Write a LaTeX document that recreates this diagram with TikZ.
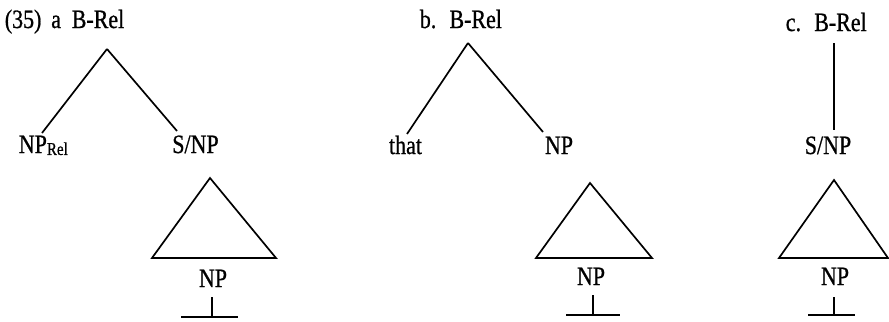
\documentclass[tikz,border=0pt]{standalone}
\usepackage{fontspec}
\setmainfont{Liberation Serif}[FakeStretch=0.83, FakeBold=0.8]
\usetikzlibrary{positioning, calc}

\begin{document}
\begin{tikzpicture}[
        x=0.025cm, y=-0.025cm,
        line width=1.2pt,
        font=\fontsize{18.8}{20}\selectfont,
        lbl/.style={
            inner sep=0pt,
            anchor=base
        }
    ]
    \useasboundingbox (0,0) rectangle (889,322);

    % (a) B-Rel -> NP_Rel, S/NP
    \node[lbl, anchor=base west] (exnum) at (4,28) {(35)\, a\,};
    \node[lbl] (arel) at (98,28) {B-Rel};
    \coordinate (atop) at (107,49);
    \coordinate (aleft) at (42,133);
    \coordinate (aright) at (177,131);
    \node[lbl, anchor=base west] (anprel) at (18,153)
        {NP\raisebox{-1.4pt}{\fontsize{12.9}{14}\selectfont Rel}};
    \node[lbl] (asnp) at (195.5,153) {S/NP};

    \draw (atop) -- (aleft);
    \draw (atop) -- (aright);

    \coordinate (atri) at (210,178);
    \draw (atri) -- (276,258) -- (152,258) -- cycle;
    \node[lbl] (anp) at (213,287) {NP};
    \coordinate (abar) at (212,297);
    \coordinate (abot) at (212,317);
    \draw (abar) -- (abot);
    \draw ($(abot)+(-31,0)$) -- ($(abot)+(26,0)$);

    % (b) B-Rel -> that, NP
    \node[lbl, anchor=base west] (brel) at (419,28) {b.\enspace B-Rel};
    \coordinate (btop) at (468,43);
    \coordinate (bleft) at (407,134);
    \coordinate (bright) at (543,132);
    \node[lbl] (bthat) at (405.5,154) {that};
    \node[lbl] (bnp) at (559,154) {NP};

    \draw (btop) -- (bleft);
    \draw (btop) -- (bright);

    \coordinate (btri) at (590,183);
    \draw (btri) -- (652,258) -- (536,258) -- cycle;
    \node[lbl] (bnpb) at (591,285) {NP};
    \coordinate (bbar) at (593,295);
    \coordinate (bbot) at (593,315);
    \draw (bbar) -- (bbot);
    \draw ($(bbot)+(-27,0)$) -- ($(bbot)+(27,0)$);

    % (c) B-Rel -> S/NP
    \node[lbl, anchor=base west] (crel) at (785,31) {c.\enspace B-Rel};
    \coordinate (ctop) at (834,43);
    \coordinate (cbot) at (834,130);
    \node[lbl] (csnp) at (828,154) {S/NP};

    \draw (ctop) -- (cbot);

    \coordinate (ctri) at (834,180);
    \draw (ctri) -- (888,258) -- (779,258) -- cycle;
    \node[lbl] (cnp) at (835,285) {NP};
    \coordinate (cbar) at (834,297);
    \coordinate (cfoot) at (834,315);
    \draw (cbar) -- (cfoot);
    \draw ($(cfoot)+(-26,0)$) -- ($(cfoot)+(21,0)$);

\end{tikzpicture}
\end{document}
